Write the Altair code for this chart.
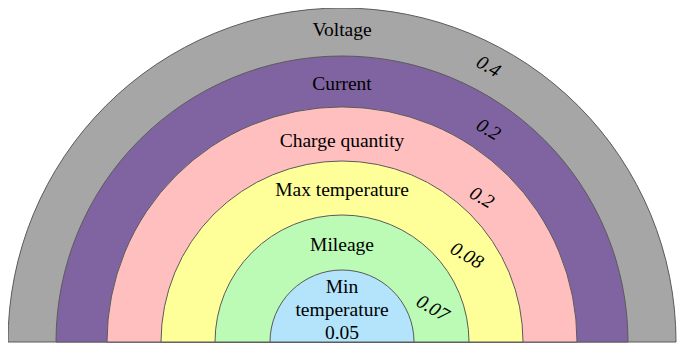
import math
import altair as alt
import pandas as pd

# ---- data ----
categories = ["Voltage", "Current", "Charge quantity", "Max temperature", "Mileage", "Min temperature"]
weights = [0.4, 0.2, 0.2, 0.08, 0.07, 0.05]
levels = [6, 5, 4, 3, 2, 1]          # ring order, outermost first

# ---- layout / style (not data) ----
colors = ["#A6A6A6", "#8064A2", "#FFBFBF", "#FFFF99", "#BBFBB5", "#B4E4FB"]
ring_radius_px = [0, 72, 127, 181, 235, 286, 334]   # radius of each ring boundary
label_level = [5.54, 4.45, 3.37, 2.46, 1.45, 0.765]  # where the labels sit inside each ring
weight_angle = [28, 34.6, 44.1, 55.3, 69.6]          # where the weight labels sit
FONT = "Liberation Serif"

rings = pd.DataFrame({
    "name": categories,
    "lvl": levels,
    "t0": [-90] * 6,
    "t1": [90] * 6,
    "cx": [0] * 6,
    "cy": [0] * 6,
})

name_text = []
for c, w, l in zip(categories, weights, levels):
    if l == 1:
        name_text.append(c.replace(" ", "\n") + "\n" + str(w))
    else:
        name_text.append(c)
names = pd.DataFrame({"txt": name_text, "lvl": label_level, "t0": [0] * 6, "cx": [0] * 6, "cy": [0] * 6})

wts = pd.DataFrame({
    "txt": [str(w) for w in weights[:5]],
    "lvl": label_level[:5],
    "t0": weight_angle,
    "cx": [0] * 5,
    "cy": [0] * 5,
})

x_enc = alt.X("cx:Q", scale=alt.Scale(domain=[-334, 335], nice=False, zero=False), axis=None)
y_enc = alt.Y("cy:Q", scale=alt.Scale(domain=[-2, 334], nice=False, zero=False), axis=None)
theta_scale = alt.Scale(domain=[-90, 90], range=[-math.pi / 2, math.pi / 2], nice=False, zero=False)
radius_scale = alt.Scale(domain=list(range(7)), range=ring_radius_px, nice=False, zero=False)

arcs = alt.Chart(rings).mark_arc(stroke="#5a5a5a", strokeWidth=1).encode(
    x=x_enc,
    y=y_enc,
    theta=alt.Theta("t0:Q", scale=theta_scale, stack=None),
    theta2=alt.Theta2("t1:Q"),
    radius=alt.Radius("lvl:Q", scale=radius_scale),
    color=alt.Color("name:N", scale=alt.Scale(domain=categories, range=colors), legend=None),
    order=alt.Order("lvl:Q", sort="descending"),
)

name_labels = alt.Chart(names).mark_text(
    font=FONT, fontSize=19.5, color="black", baseline="middle", align="center",
    lineBreak="\n", lineHeight=23,
).encode(
    x=x_enc,
    y=y_enc,
    theta=alt.Theta("t0:Q", scale=theta_scale, stack=None),
    radius=alt.Radius("lvl:Q", scale=radius_scale),
    text="txt:N",
)

weight_labels = alt.Chart(wts).mark_text(
    font=FONT, fontSize=19.5, fontStyle="italic", color="black", baseline="middle",
    align="center", angle=30,
).encode(
    x=x_enc,
    y=y_enc,
    theta=alt.Theta("t0:Q", scale=theta_scale, stack=None),
    radius=alt.Radius("lvl:Q", scale=radius_scale),
    text="txt:N",
)

chart = alt.layer(arcs, name_labels, weight_labels).properties(
    width=669,
    height=336,
    padding=0,
    autosize=alt.AutoSizeParams(type="none"),
    background="white",
).configure_view(stroke=None)

chart.save("out.html", embed_options={"renderer": "svg", "actions": False})
